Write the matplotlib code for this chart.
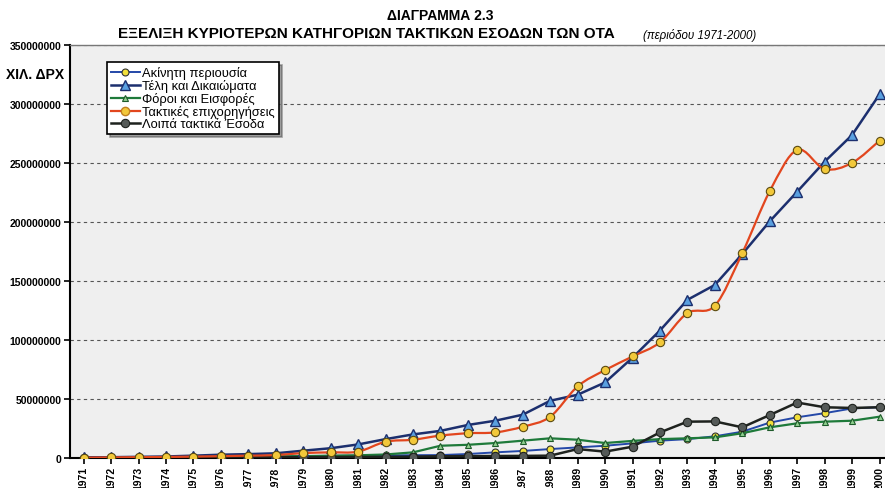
import numpy as np
import matplotlib
matplotlib.use("Agg")
import matplotlib.pyplot as plt
from matplotlib.path import Path
from matplotlib.patches import PathPatch
from matplotlib.ticker import FuncFormatter

plt.rcParams['font.family'] = ['Liberation Sans', 'DejaVu Sans']

years = list(range(1971, 2001))

# values in thousand drachmas
akinita = [0.3, 0.4, 0.5, 0.6, 0.8, 1.0, 1.2, 1.4, 1.6, 1.8, 2.0, 2.2, 2.4, 2.5,
           3.4, 4.8, 6.0, 7.6, 9.0, 10.4, 12.4, 14.7, 16.0, 18.4, 22.3, 30.0,
           34.5, 38.0, 42.0, 43.0]
teli = [0.5, 0.7, 1.0, 1.3, 2.0, 2.8, 3.3, 4.0, 6.2, 8.3, 11.5, 16.0, 20.0, 23.0,
        28.0, 31.6, 36.7, 48.5, 53.6, 64.0, 85.0, 108.0, 134.0, 146.6, 172.8,
        200.5, 225.6, 251.0, 273.6, 308.0]
foroi = [0.3, 0.4, 0.5, 0.6, 0.8, 1.0, 1.2, 1.4, 1.6, 2.0, 2.3, 3.0, 4.8, 10.4,
         11.2, 12.7, 14.7, 16.7, 15.5, 12.7, 14.5, 16.0, 16.7, 17.5, 21.0, 26.0,
         29.4, 30.8, 31.6, 35.0]
epixorigiseis = [0.3, 0.5, 0.7, 0.9, 1.2, 1.6, 2.0, 2.5, 4.2, 4.8, 5.4, 13.8,
                 15.5, 19.0, 21.0, 21.7, 26.5, 35.0, 60.7, 74.5, 86.0, 98.0,
                 122.8, 129.0, 173.6, 226.0, 261.0, 244.8, 250.0, 268.8]
loipa = [0.2, 0.2, 0.3, 0.3, 0.4, 0.5, 0.5, 0.6, 0.7, 0.8, 0.9, 1.0, 1.2, 1.5,
         1.6, 1.7, 1.8, 2.0, 7.6, 5.4, 9.6, 21.7, 30.8, 31.0, 26.0, 36.4, 47.0,
         43.0, 42.4, 43.0]

labels = ['Ακίνητη περιουσία', 'Τέλη και Δικαιώματα', 'Φόροι και Εισφορές',
          'Τακτικές επιχορηγήσεις', 'Λοιπά τακτικά Έσοδα']

M = 1e6


def smooth_path(x, y, t=1 / 6):
    # Catmull-Rom style bezier through every point
    x = np.asarray(x, float)
    y = np.asarray(y, float)
    pts = np.column_stack([x, y])
    verts = [pts[0]]
    codes = [Path.MOVETO]
    n = len(pts)
    for i in range(n - 1):
        p0 = pts[max(i - 1, 0)]
        p1 = pts[i]
        p2 = pts[i + 1]
        p3 = pts[min(i + 2, n - 1)]
        c1 = p1 + (p2 - p0) * t
        c2 = p2 - (p3 - p1) * t
        verts += [c1, c2, p2]
        codes += [Path.CURVE4] * 3
    return Path(verts, codes)


fig = plt.figure(figsize=(8.85, 4.89), dpi=100)
ax = fig.add_axes([0.079, 0.0613, 0.921, 0.845])
ax.set_facecolor('#efefef')

yrs = np.array(years)

ax.plot(yrs, np.array(akinita) * M, color='#2448a8', lw=1.4, marker='o', ms=5,
        mfc='#f2e03a', mec='#333333', mew=0.8, label=labels[0], zorder=4)
ax.plot(yrs, np.array(teli) * M, color='#1c2f6e', lw=1.8, marker='^', ms=7,
        mfc='#5aa0e0', mec='#1c2f6e', mew=1.0, label=labels[1], zorder=5)
ax.plot(yrs, np.array(foroi) * M, color='#1e7a3a', lw=1.6, marker='^', ms=5,
        mfc='#8fd08f', mec='#1e5a2a', mew=0.8, label=labels[2], zorder=4)

# grants series drawn with a smoothed line
red = '#e2461e'
ax.add_patch(PathPatch(smooth_path(yrs, np.array(epixorigiseis) * M),
                       fc='none', ec=red, lw=1.6, zorder=5))
ax.plot(yrs, np.array(epixorigiseis) * M, ls='none', marker='o', ms=6,
        mfc='#f2c83a', mec='#5a4a10', mew=0.8, zorder=6)
ax.plot([], [], color=red, lw=1.6, marker='o', ms=6, mfc='#f2c83a',
        mec='#c08020', label=labels[3])

ax.plot(yrs, np.array(loipa) * M, color='#1e221e', lw=1.8, marker='o', ms=6,
        mfc='#555a58', mec='#1e221e', mew=0.8, label=labels[4], zorder=4)

ax.set_xlim(1970.5, 2000.2)
ax.set_ylim(0, 350 * M)
ax.set_yticks(np.arange(0, 351, 50) * M)
ax.yaxis.set_major_formatter(FuncFormatter(lambda v, p: f'{int(round(v))}'))
ax.set_xticks(years)
ax.set_xticklabels([str(y) for y in years], rotation=90, fontsize=7.5,
                   fontweight='bold')
for lab in ax.get_yticklabels():
    lab.set_fontsize(7.5)
    lab.set_fontweight('bold')

ax.grid(axis='y', color='#555555', ls=(0, (3, 3)), lw=0.8)
ax.set_axisbelow(True)
ax.spines['right'].set_visible(False)
ax.spines['top'].set_color('#777777')
ax.spines['top'].set_linewidth(1.0)
ax.spines['left'].set_linewidth(1.5)
ax.spines['bottom'].set_linewidth(1.5)
ax.tick_params(axis='both', direction='out', length=4, width=1.2, pad=2)

fig.text(0.498, 0.968, 'ΔΙΑΓΡΑΜΜΑ 2.3', ha='center', va='center',
         fontsize=10, fontweight='bold')
fig.text(0.133, 0.93, 'ΕΞΕΛΙΞΗ ΚΥΡΙΟΤΕΡΩΝ ΚΑΤΗΓΟΡΙΩΝ ΤΑΚΤΙΚΩΝ ΕΣΟΔΩΝ ΤΩΝ ΟΤΑ',
         ha='left', va='center', fontsize=11, fontweight='bold')
fig.text(0.727, 0.928, '(περιόδου 1971-2000)', ha='left', va='center',
         fontsize=8.3, style='italic')
fig.text(0.04, 0.847, 'ΧΙΛ. ΔΡΧ', ha='center', va='center', fontsize=10,
         fontweight='bold')

leg = ax.legend(loc='upper left', bbox_to_anchor=(0.046, 0.958), fontsize=9.3,
                frameon=True, fancybox=False, shadow=True, borderpad=0.3,
                labelspacing=0.0, handlelength=2.2, handletextpad=0.2,
                borderaxespad=0)
leg.get_frame().set_edgecolor('black')
leg.get_frame().set_linewidth(1.2)
leg.get_frame().set_facecolor('white')

fig.savefig('out.png', dpi=100)
